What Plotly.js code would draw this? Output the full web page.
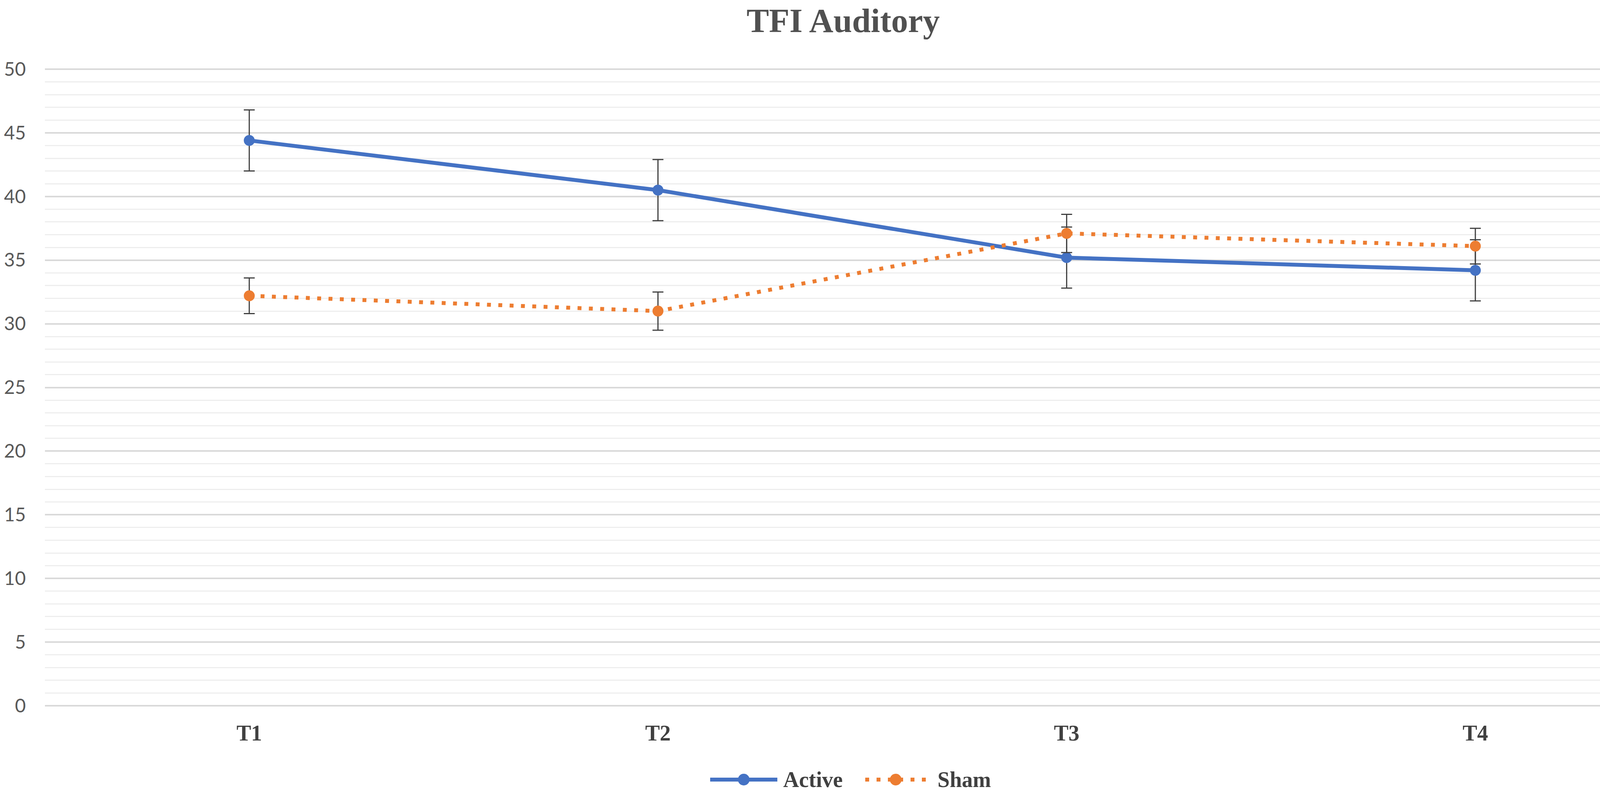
<!DOCTYPE html>
<html>
<head>
<meta charset="utf-8">
<script src="https://cdn.plot.ly/plotly-3.0.1.min.js"></script>
<style>
  html, body { margin: 0; padding: 0; background: #ffffff; }
  #plot { width: 4317px; height: 2060px; }
</style>
</head>
<body>
<div id="plot"></div>
<script>
// time points and group means (+/- error)
var timePoints = ["T1", "T2", "T3", "T4"];
var activeMean = [44.4, 40.5, 35.2, 34.2];
var activeErr = [2.4, 2.4, 2.4, 2.4];
var shamMean = [32.2, 31.0, 37.1, 36.1];
var shamErr = [1.4, 1.5, 1.5, 1.4];
var yTicks = [0, 5, 10, 15, 20, 25, 30, 35, 40, 45, 50];
var seriesNames = ["Active", "Sham"];

var blue = "#4472C4";
var orange = "#ED7D31";
var shamDash = "10px,19px";
var serif = "Liberation Serif, Times New Roman, serif";

// plot box in page pixels, used to place the hand-drawn legend keys
var plotL = 115, plotR = 4300, plotT = 175, plotB = 1808;
function px2x(px) { return (px - plotL) / (plotR - plotL); }
function px2y(py) { return (plotB - py) / (plotB - plotT); }

var errStyle = {color: "#404040", thickness: 3, width: 14};

var active = {
    x: timePoints,
    y: activeMean,
    name: seriesNames[0],
    type: "scatter",
    mode: "lines+markers",
    line: {color: blue, width: 10},
    marker: {color: blue, size: 28},
    error_y: Object.assign({type: "data", array: activeErr, visible: true}, errStyle)
};

var sham = {
    x: timePoints,
    y: shamMean,
    name: seriesNames[1],
    type: "scatter",
    mode: "lines+markers",
    line: {color: orange, width: 10, dash: shamDash},
    marker: {color: orange, size: 28},
    error_y: Object.assign({type: "data", array: shamErr, visible: true}, errStyle)
};

// legend: Excel-style long keys, drawn as shapes below the plot
var legY = px2y(1995);
function keyLine(x0, x1, color, dash) {
    return {type: "line", xref: "paper", yref: "paper",
            x0: px2x(x0), x1: px2x(x1), y0: legY, y1: legY,
            line: {color: color, width: 10, dash: dash}, layer: "above"};
}
function keyDot(cx, color) {
    return {type: "circle", xref: "paper", yref: "paper",
            xsizemode: "pixel", ysizemode: "pixel",
            xanchor: px2x(cx), yanchor: legY,
            x0: -15, x1: 15, y0: -15, y1: 15,
            fillcolor: color, line: {width: 0}, layer: "above"};
}
function keyText(x, text) {
    return {xref: "paper", yref: "paper", x: px2x(x), y: legY,
            xanchor: "left", yanchor: "middle", showarrow: false, text: text,
            font: {family: serif, size: 56, color: "#404040", weight: "bold"}};
}

var layout = {
    width: 4317,
    height: 2060,
    paper_bgcolor: "#ffffff",
    plot_bgcolor: "#ffffff",
    margin: {l: plotL, r: 4317 - plotR, t: plotT, b: 2060 - plotB, autoexpand: false},
    showlegend: false,
    title: {
        text: "TFI Auditory",
        x: 0.5,
        xref: "container",
        y: 0.975,
        yref: "container",
        yanchor: "middle",
        font: {family: serif, size: 86, color: "#505050", weight: "bold"}
    },
    xaxis: {
        type: "category",
        range: [-0.5, 3.5],
        showgrid: false,
        showline: false,
        zeroline: false,
        ticks: "",
        ticklabelstandoff: 30,
        tickfont: {family: serif, size: 56, color: "#404040", weight: "bold"}
    },
    yaxis: {
        range: [-0.06, 50.06],
        tickvals: yTicks,
        showgrid: true,
        gridcolor: "#d9d9d9",
        gridwidth: 4,
        zeroline: false,
        showline: false,
        ticks: "",
        ticklabelstandoff: 48,
        tickfont: {family: "Lato, Open Sans, sans-serif", size: 48, color: "#595959"},
        minor: {dtick: 1, showgrid: true, gridcolor: "#eeeeee", gridwidth: 3}
    },
    shapes: [
        keyLine(1818, 1990, blue, "solid"),
        keyDot(1904, blue),
        keyLine(2215, 2370, orange, shamDash),
        keyDot(2293, orange)
    ],
    annotations: [
        keyText(2003, seriesNames[0]),
        keyText(2398, seriesNames[1])
    ]
};

Plotly.newPlot("plot", [active, sham], layout, {displayModeBar: false, staticPlot: true});
</script>
</body>
</html>
